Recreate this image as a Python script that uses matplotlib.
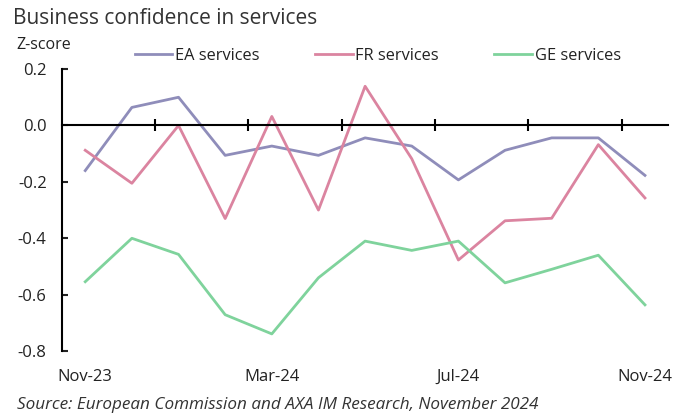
import matplotlib.pyplot as plt
import numpy as np

plt.rcParams['font.family'] = ['Open Sans', 'DejaVu Sans']

months = ['Nov-23', 'Dec-23', 'Jan-24', 'Feb-24', 'Mar-24', 'Apr-24', 'May-24',
          'Jun-24', 'Jul-24', 'Aug-24', 'Sep-24', 'Oct-24', 'Nov-24']
ea = [-0.16, 0.064, 0.10, -0.106, -0.073, -0.106, -0.044, -0.073, -0.193,
      -0.088, -0.044, -0.044, -0.177]
fr = [-0.088, -0.205, 0.0, -0.33, 0.032, -0.30, 0.139, -0.118, -0.477,
      -0.338, -0.329, -0.068, -0.257]
ge = [-0.554, -0.40, -0.457, -0.671, -0.739, -0.54, -0.41, -0.443, -0.41,
      -0.558, -0.51, -0.46, -0.636]
label_months = ['Nov-23', 'Mar-24', 'Jul-24', 'Nov-24']

x = np.arange(len(months))

fig = plt.figure(figsize=(6.73, 4.16), dpi=100)
ax = fig.add_axes([0.092, 0.156, 0.901, 0.678])

ax.plot(x, ea, color='#8f8dba', lw=2.0, label='EA services')
ax.plot(x, fr, color='#db84a0', lw=2.0, label='FR services')
ax.plot(x, ge, color='#7fd39c', lw=2.0, label='GE services')

ax.set_xlim(-0.5, len(months) - 0.5)
ax.set_ylim(-0.8, 0.2)
ax.set_yticks([0.2, 0.0, -0.2, -0.4, -0.6, -0.8])
ax.set_yticklabels(['0.2', '0.0', '-0.2', '-0.4', '-0.6', '-0.8'])

# axe des x à zéro, graduations entre les catégories
for s in ['top', 'right']:
    ax.spines[s].set_visible(False)
ax.spines['bottom'].set_position(('data', 0))
ax.spines['bottom'].set_linewidth(1.5)
ax.spines['left'].set_linewidth(1.5)
ax.set_xticks(np.arange(1.5, len(months) - 1, 2))
ax.tick_params(axis='x', direction='inout', length=8, width=1.5, labelbottom=False)
ax.tick_params(axis='y', direction='in', length=4, width=1.5, labelsize=12, pad=11,
               colors='#222222')

# étiquettes en bas
sec = ax.secondary_xaxis(0.0)
sec.spines['bottom'].set_visible(False)
sec.set_xticks([months.index(m) for m in label_months])
sec.set_xticklabels(label_months)
sec.tick_params(length=0, labelsize=12, pad=13, colors='#222222')

fig.text(0.019, 0.955, 'Business confidence in services', fontsize=15, color='#333333',
         va='center')
fig.text(0.025, 0.892, 'Z-score', fontsize=11.5, color='#222222', va='center')
fig.text(0.025, 0.027, 'Source: European Commission and AXA IM Research, November 2024',
         fontsize=12.3, style='italic', color='#333333', va='center')

fig.legend(loc='center left', bbox_to_anchor=(0.178, 0.866), ncol=3, frameon=False,
           fontsize=11.8, handlelength=2.3, handletextpad=0.15, columnspacing=3.4,
           labelcolor='#222222')

fig.savefig('out.png', dpi=100)
